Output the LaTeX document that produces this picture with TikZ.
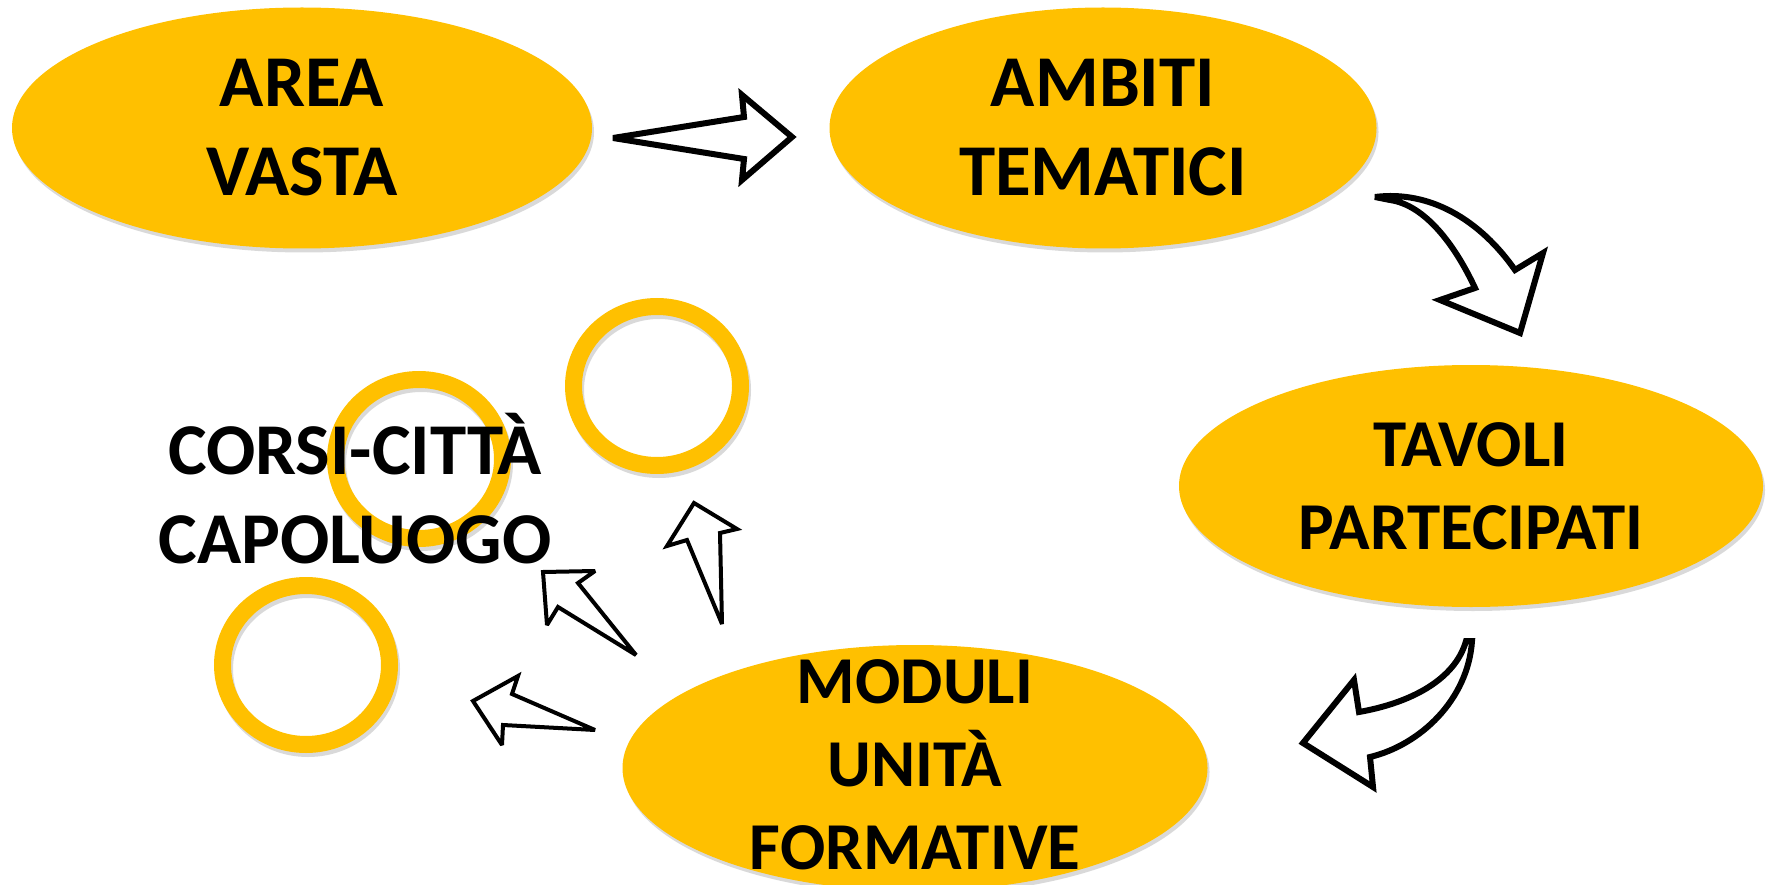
\documentclass[tikz,border=0pt]{standalone}
\usepackage{fontspec}
\setmainfont{Carlito}
\usetikzlibrary{shapes.geometric}
\definecolor{gold}{HTML}{FFC000}

\begin{document}
\begin{tikzpicture}[x=1pt,y=-1pt,
	blob/.style={ellipse,fill=gold,inner sep=0pt,
		preaction={fill=black,opacity=.15,transform canvas={xshift=2pt,yshift=-4pt}}},
	ring/.style={ellipse,draw=gold,line width=17pt,inner sep=0pt,minimum width=167pt,minimum height=159pt,
		preaction={draw=black,opacity=.15,transform canvas={xshift=2pt,yshift=-4pt}}},
	lbl/.style={align=center,inner sep=0pt,font=\bfseries\fontsize{73}{89}\selectfont},
	lblsmall/.style={align=center,inner sep=0pt,font=\bfseries\fontsize{67}{83}\selectfont},
	bigarrow/.style={draw=black,fill=white,line width=6pt,miter limit=3},
	smallarrow/.style={draw=black,fill=white,line width=4pt,miter limit=3}]
	\useasboundingbox (0,0) rectangle (1769,885);

	% the four steps
	\node[blob,minimum width=580pt,minimum height=241pt] (vasta) at (302,128) {};
	\node[blob,minimum width=547pt,minimum height=241pt] (ambiti) at (1103,128) {};
	\node[blob,minimum width=584pt,minimum height=242pt] (tavoli) at (1471,486) {};
	\node[blob,minimum width=585pt,minimum height=246pt] (moduli) at (915,768) {};

	\node[lbl] (tvasta) at (vasta) {AREA\\VASTA};
	\node[lbl] (tambiti) at (ambiti) {AMBITI\\TEMATICI};
	\node[lblsmall] (ttavoli) at (tavoli) {TAVOLI\\PARTECIPATI};
	\node[lblsmall] (tmoduli) at ([yshift=3pt]moduli) {MODULI\\UNITÀ\\FORMATIVE};

	% the rings
	\node[ring] (ringA) at (419,459) {};
	\node[ring] (ringB) at (657,386) {};
	\node[ring] (ringC) at (306,665) {};

	\node[lbl] (tcorsi) at (355,489) {CORSI-CITTÀ\\CAPOLUOGO};

	% block arrows round the cycle
	\draw[bigarrow] (613,138) -- (744,117) -- (742,95) -- (792,137) -- (742,180) -- (744,159) -- cycle;

	\draw[bigarrow] (1375,197) .. controls (1430,190) and (1480,220) .. (1515,270) -- (1543,253) -- (1520,333)
		-- (1440,300) -- (1475,288) .. controls (1455,245) and (1425,205) .. (1390,200) -- cycle;

	\draw[bigarrow] (1472,641) .. controls (1468,700) and (1420,745) .. (1370,757) -- (1373,787) -- (1303,743)
		-- (1354,680) -- (1359,712) .. controls (1410,703) and (1455,680) .. (1466,641) -- cycle;

	% small arrows out of the modules
	\draw[smallarrow] (722,624) -- (720,533) -- (737,529) -- (694,503) -- (667,546) -- (687,540) -- cycle;
	\draw[smallarrow] (636,655) -- (578,583) -- (595,571) -- (543,572) -- (547,625) -- (558,607) -- cycle;
	\draw[smallarrow] (595,730) -- (512,694) -- (518,676) -- (473,701) -- (502,745) -- (503,725) -- cycle;
\end{tikzpicture}
\end{document}
